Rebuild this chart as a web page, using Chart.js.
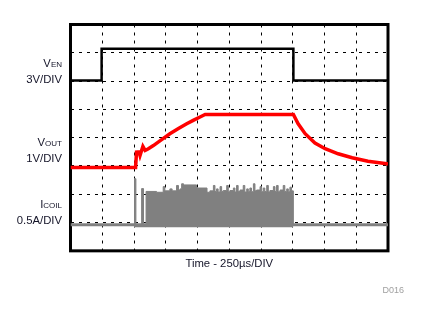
<!DOCTYPE html>
<html>
<head>
<meta charset="utf-8">
<script src="https://cdn.jsdelivr.net/npm/chart.js@4.4.1/dist/chart.umd.min.js"></script>
<style>
  html, body { margin: 0; padding: 0; background: #fff; }
  #wrap { position: relative; width: 421px; height: 312px; }
  #myChart { display: block; }
  .lbl {
    position: absolute; left: 0; width: 62px; text-align: right;
    font-family: "Liberation Sans", Arial, sans-serif; font-size: 11.3px;
    line-height: 14px; color: #141428; white-space: nowrap;
  }
  .lbl span { font-size: 8px; }
  #code {
    position: absolute; right: 17px; top: 285px;
    font-family: "Liberation Sans", Arial, sans-serif; font-size: 9px;
    line-height: 11px; color: #a0a0a0;
  }
</style>
</head>
<body>
<div id="wrap">
  <canvas id="myChart" width="421" height="312"></canvas>
  <div class="lbl" style="top:56px">V<span>EN</span><br>3V/DIV</div>
  <div class="lbl" style="top:135px">V<span>OUT</span><br>1V/DIV</div>
  <div class="lbl" style="top:197px">I<span>COIL</span><br>0.5A/DIV</div>
  <div id="code">D016</div>
</div>
<script>
// Scope trace data, in screen divisions (x: 0..10 DIV, y: 0..8 DIV from bottom)
const enTime = [0, 0.98, 0.98, 7.02, 7.02, 10];
const enLevel = [6.02, 6.02, 7.14, 7.14, 6.02, 6.02];

const voutTime = [0, 2.05, 2.08, 2.16, 2.19, 2.28, 2.35, 2.44, 2.61, 2.87, 3.13, 3.40, 3.66, 3.88, 4.08, 4.24,
  5.0, 6.0, 7.02, 7.17, 7.39, 7.70, 8.02, 8.43, 8.87, 9.37, 9.96, 10];
const voutLevel = [2.95, 2.95, 3.49, 3.50, 3.37, 3.69, 3.55, 3.60, 3.72, 3.93, 4.14, 4.32, 4.49, 4.62, 4.73, 4.82,
  4.82, 4.82, 4.82, 4.49, 4.14, 3.81, 3.61, 3.43, 3.29, 3.17, 3.08, 3.07];

const icoilBaseTime = [0, 10];
const icoilBaseLevel = [0.92, 0.92];

// peak / valley envelope of the switching current bursts (held until next point)
const burstTime = [2.00, 2.06, 2.24, 2.30, 2.38, 2.71, 2.92, 2.97, 3.13, 3.20, 3.34, 3.40, 3.45, 3.50, 3.56,
  3.97, 4.30, 4.39, 4.50, 4.55, 4.60, 4.65, 4.71, 4.76, 4.81, 4.92, 4.97, 5.02, 5.13, 5.18, 5.23, 5.28,
  5.34, 5.44, 5.49, 5.55, 5.60, 5.65, 5.70, 5.76, 5.81, 5.86, 5.97, 6.02, 6.07, 6.12, 6.18, 6.23, 6.28,
  6.39, 6.44, 6.49, 6.54, 6.60, 6.70, 6.75, 6.81, 6.86, 6.91, 6.96, 7.02];
const burstLevel = [2.55, 0.92, 2.20, 0.92, 2.10, 2.07, 2.27, 2.12, 2.19, 2.12, 2.31, 2.15, 2.19, 2.37, 2.33,
  2.22, 2.07, 2.12, 2.31, 2.10, 2.19, 2.08, 2.27, 2.10, 2.13, 2.31, 2.09, 2.13, 2.22, 2.08, 2.31, 2.10,
  2.15, 2.31, 2.08, 2.19, 2.10, 2.22, 2.09, 2.37, 2.12, 2.15, 2.27, 2.09, 2.22, 2.10, 2.31, 2.08, 2.13,
  2.27, 2.10, 2.31, 2.09, 2.15, 2.31, 2.10, 2.19, 2.09, 2.25, 2.12, 0.92];

function toPoints(xs, ys) {
  return xs.map((x, i) => ({ x: x, y: ys[i] }));
}

// thick black frame around the plot area
const framePlugin = {
  id: "frame",
  beforeDatasetsDraw(chart) {
    const { ctx, chartArea: a } = chart;
    ctx.save();
    ctx.lineWidth = 3;
    ctx.strokeStyle = "#000";
    ctx.strokeRect(a.left, a.top, a.right - a.left, a.bottom - a.top);
    ctx.restore();
  },
};

const ctx = document.getElementById("myChart");
const myChart = new Chart(ctx, {
  type: "scatter",
  data: {
    datasets: [
      {
        label: "VEN",
        data: toPoints(enTime, enLevel),
        borderColor: "#000",
        borderWidth: 2.5,
      },
      {
        label: "VOUT",
        data: toPoints(voutTime, voutLevel),
        borderColor: "#ff0000",
        borderWidth: 3.5,
      },
      {
        label: "ICOIL",
        data: toPoints(icoilBaseTime, icoilBaseLevel),
        borderColor: "#808080",
        borderWidth: 3,
      },
      {
        label: "ICOIL bursts",
        data: toPoints(burstTime, burstLevel),
        borderColor: "#808080",
        backgroundColor: "#808080",
        borderWidth: 1,
        stepped: true,
        fill: { value: 0.83 },
      },
    ],
  },
  options: {
    responsive: false,
    animation: false,
    showLine: true,
    elements: { point: { radius: 0 } },
    layout: { padding: { left: 70.5, top: 24.5, right: 33, bottom: 41.6 } },
    plugins: { legend: { display: false }, tooltip: { enabled: false } },
    scales: {
      x: {
        type: "linear",
        min: 0,
        max: 10,
        ticks: { display: false, stepSize: 1 },
        grid: { color: "#000", lineWidth: 1, drawTicks: false },
        border: { display: false, dash: [3, 5] },
        title: {
          display: true,
          text: "Time - 250µs/DIV",
          color: "#141428",
          font: { family: "'Liberation Sans', Arial, sans-serif", size: 11.3 },
          padding: { top: 6, bottom: 0 },
        },
      },
      y: {
        type: "linear",
        min: 0,
        max: 8,
        ticks: { display: false, stepSize: 1 },
        grid: { color: "#000", lineWidth: 1, drawTicks: false },
        border: { display: false, dash: [3, 5] },
      },
    },
  },
  plugins: [framePlugin],
});
</script>
</body>
</html>
